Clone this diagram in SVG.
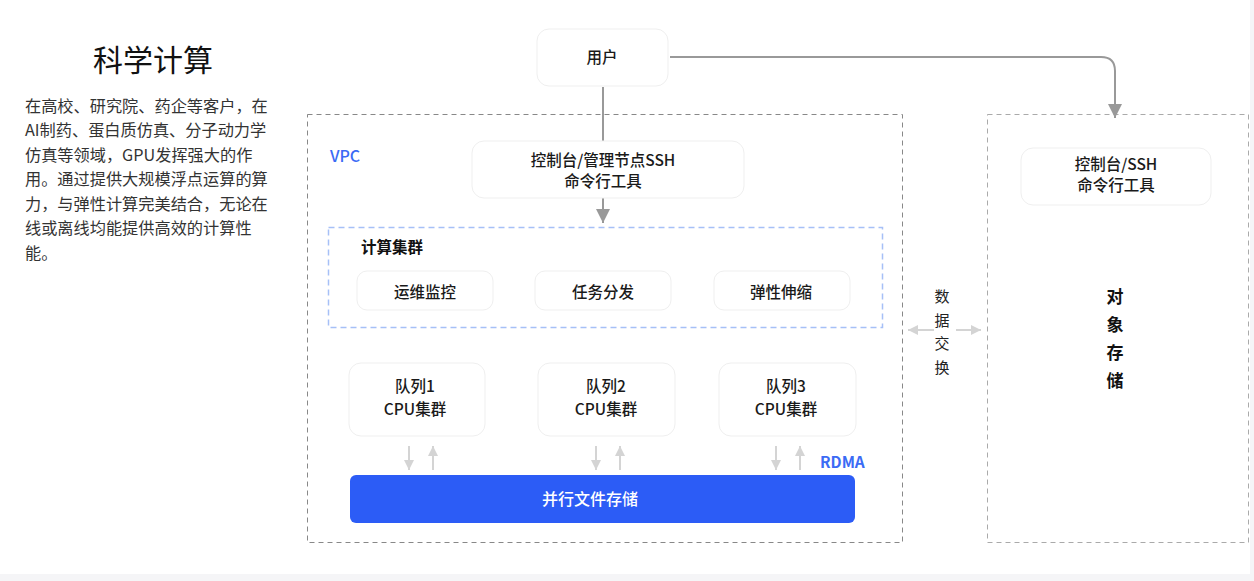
<svg xmlns="http://www.w3.org/2000/svg" width="1254" height="581" viewBox="0 0 1254 581">
<defs>
<style>
text{font-family:"Noto Sans CJK SC","Noto Sans",sans-serif;}
.node{fill:#fff;stroke:#efefef;stroke-width:1;}
.lbl{font-size:15.5px;font-weight:500;fill:#1a1a1a;text-anchor:middle;}
.para{font-size:16.2px;fill:#333;}
.conn{stroke:#999;stroke-width:2;fill:none;}
.thin{stroke:#d4d4d4;stroke-width:2;fill:none;}
.vert{font-size:15px;fill:#222;text-anchor:middle;}
.obj{font-size:17px;font-weight:bold;fill:#111;text-anchor:middle;}
</style>
<marker id="ahBig" viewBox="0 0 10 10" refX="10" refY="5" markerWidth="14" markerHeight="14" orient="auto" markerUnits="userSpaceOnUse">
<path d="M0,0 L10,5 L0,10 z" fill="#999"/>
</marker>
<marker id="ahL" viewBox="0 0 10 10" refX="10" refY="5" markerWidth="10" markerHeight="10" orient="auto" markerUnits="userSpaceOnUse">
<path d="M0,0 L10,5 L0,10 z" fill="#d4d4d4"/>
</marker>
</defs>
<rect width="1254" height="581" fill="#fff"/>
<rect x="0" y="574" width="1254" height="7" fill="#f5f5f7"/>
<rect x="1250" y="0" width="4" height="581" fill="#f5f5f7"/>

<g id="intro">
<text x="153" y="71" font-size="30" text-anchor="middle" fill="#111">科学计算</text>
<text class="para" x="25" y="112">在高校、研究院、药企等客户，在</text>
<text class="para" x="25" y="136">AI制药、蛋白质仿真、分子动力学</text>
<text class="para" x="25" y="161">仿真等领域，GPU发挥强大的作</text>
<text class="para" x="25" y="185">用。通过提供大规模浮点运算的算</text>
<text class="para" x="25" y="210">力，与弹性计算完美结合，无论在</text>
<text class="para" x="25" y="234">线或离线均能提供高效的计算性</text>
<text class="para" x="25" y="259">能。</text>
</g>

<g id="vpc">
<rect x="307.5" y="114.5" width="595" height="428" fill="none" stroke="#888" stroke-width="1" stroke-dasharray="5 4"/>
<text x="330" y="162" font-size="16" fill="#3b6bf5" font-weight="500">VPC</text>
</g>

<g id="object-storage-zone">
<rect x="987.5" y="114.5" width="261" height="428" fill="none" stroke="#aaa" stroke-width="1" stroke-dasharray="5 4"/>
<text class="obj" x="1115" y="303">对</text>
<text class="obj" x="1115" y="331">象</text>
<text class="obj" x="1115" y="359">存</text>
<text class="obj" x="1115" y="387">储</text>
</g>

<g id="connectors">
<line class="conn" x1="603" y1="87" x2="603" y2="141"/>
<line class="conn" x1="603" y1="198" x2="603" y2="223" marker-end="url(#ahBig)"/>
<path class="conn" d="M670,57 H1101 Q1115,57 1115,71 V118" marker-end="url(#ahBig)"/>
<line class="thin" x1="409" y1="446" x2="409" y2="470" marker-end="url(#ahL)"/>
<line class="thin" x1="433" y1="470" x2="433" y2="446" marker-end="url(#ahL)"/>
<line class="thin" x1="596" y1="446" x2="596" y2="470" marker-end="url(#ahL)"/>
<line class="thin" x1="620" y1="470" x2="620" y2="446" marker-end="url(#ahL)"/>
<line class="thin" x1="776" y1="446" x2="776" y2="470" marker-end="url(#ahL)"/>
<line class="thin" x1="800" y1="470" x2="800" y2="446" marker-end="url(#ahL)"/>
<line class="thin" x1="934" y1="330" x2="908" y2="330" marker-end="url(#ahL)"/>
<line class="thin" x1="956" y1="330" x2="981" y2="330" marker-end="url(#ahL)"/>
</g>

<g id="data-exchange">
<text class="vert" x="942" y="302">数</text>
<text class="vert" x="942" y="326">据</text>
<text class="vert" x="942" y="349">交</text>
<text class="vert" x="942" y="373">换</text>
</g>

<g id="user">
<rect class="node" x="537" y="29" width="131" height="57" rx="12"/>
<text class="lbl" x="602" y="63">用户</text>
</g>

<g id="mgmt-ssh">
<rect class="node" x="472" y="141" width="272" height="57" rx="12"/>
<text class="lbl" x="603" y="165.5">控制台/管理节点SSH</text>
<text class="lbl" x="603" y="186.5">命令行工具</text>
</g>

<g id="console-ssh">
<rect class="node" x="1021" y="148" width="190" height="57" rx="12"/>
<text class="lbl" x="1116" y="170">控制台/SSH</text>
<text class="lbl" x="1116" y="190.5">命令行工具</text>
</g>

<g id="compute-cluster">
<rect x="328.5" y="227.5" width="554" height="100" fill="none" stroke="#a6c0f7" stroke-width="1.5" stroke-dasharray="6 4"/>
<text x="361" y="253" font-size="15.5" font-weight="bold" fill="#111">计算集群</text>
</g>

<g id="ops-monitor">
<rect class="node" x="357" y="271" width="136" height="39" rx="10"/>
<text class="lbl" x="425" y="298">运维监控</text>
</g>
<g id="task-dispatch">
<rect class="node" x="535" y="271" width="136" height="39" rx="10"/>
<text class="lbl" x="603" y="298">任务分发</text>
</g>
<g id="elastic-scale">
<rect class="node" x="714" y="271" width="136" height="39" rx="10"/>
<text class="lbl" x="781" y="298">弹性伸缩</text>
</g>

<g id="queue1">
<rect class="node" x="349" y="363" width="136" height="73" rx="12"/>
<text class="lbl" x="415" y="392">队列1</text>
<text class="lbl" x="415" y="415">CPU集群</text>
</g>
<g id="queue2">
<rect class="node" x="538" y="363" width="137" height="73" rx="12"/>
<text class="lbl" x="606" y="392">队列2</text>
<text class="lbl" x="606" y="415">CPU集群</text>
</g>
<g id="queue3">
<rect class="node" x="719" y="363" width="137" height="73" rx="12"/>
<text class="lbl" x="786" y="392">队列3</text>
<text class="lbl" x="786" y="415">CPU集群</text>
</g>

<g id="rdma">
<text x="820" y="468" font-size="15.5" font-weight="bold" fill="#3b6bf5">RDMA</text>
</g>

<g id="parallel-fs">
<rect x="350" y="475" width="505" height="48" rx="6" fill="#2c5cf6"/>
<text x="590" y="505" font-size="16" font-weight="500" fill="#fff" text-anchor="middle">并行文件存储</text>
</g>
</svg>
